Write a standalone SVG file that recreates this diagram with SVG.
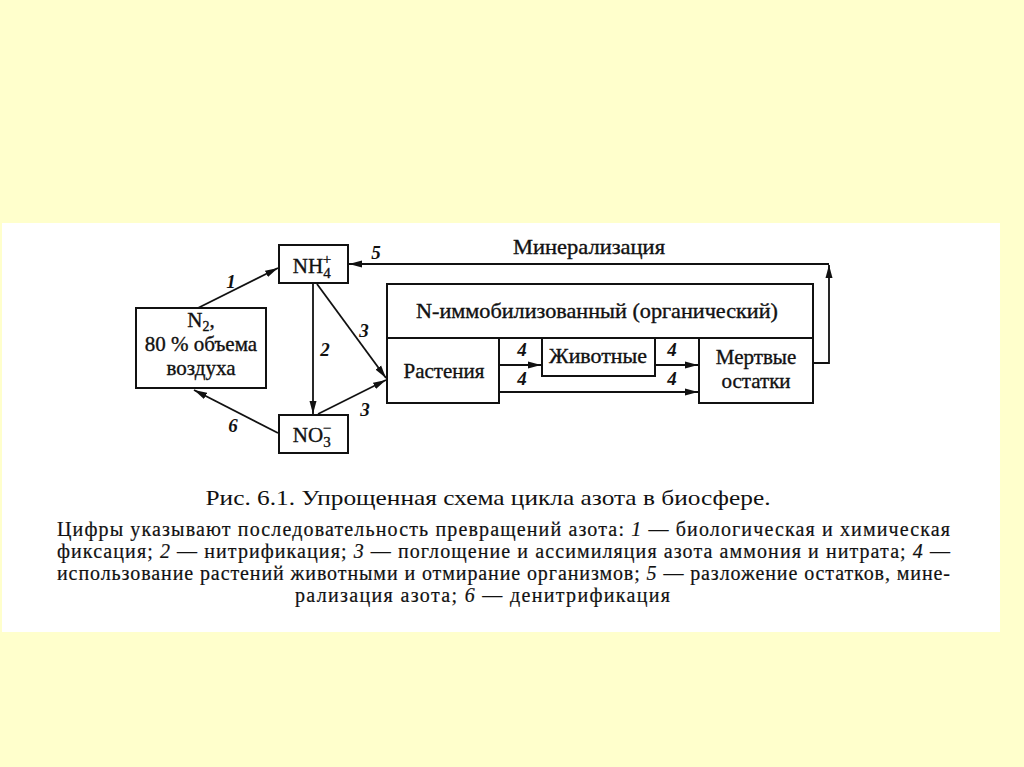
<svg xmlns="http://www.w3.org/2000/svg" width="1024" height="767" viewBox="0 0 1024 767">
<style>
.box{fill:#fff;stroke:#111;stroke-width:2}
.t{font-family:"Liberation Serif","Times New Roman",serif;fill:#111;text-anchor:middle}
.d{font-size:21px;stroke:#111;stroke-width:0.35}
.n{font-family:"Liberation Serif","Times New Roman",serif;font-style:italic;font-weight:bold;font-size:19px;fill:#111;text-anchor:middle}
.c{stroke:#111;stroke-width:1.8;fill:none;marker-end:url(#ah)}
.p{font-family:"Liberation Serif","Times New Roman",serif;font-size:20px;fill:#111;stroke:#111;stroke-width:0.2}
</style>
<defs>
<marker id="ah" markerUnits="userSpaceOnUse" markerWidth="14" markerHeight="8" refX="13" refY="4" orient="auto">
<path d="M0,0.5 L13,4 L0,7.5 z" fill="#111"/>
</marker>
</defs>
<rect x="0" y="0" width="1024" height="767" fill="#FFFFCC"/>
<rect x="2" y="223" width="998" height="409" fill="#fff"/>

<g id="n2">
<rect class="box" x="136" y="308" width="130" height="80"/>
<text class="t d" x="201" y="327" font-size="21">N<tspan font-size="14" dy="4">2</tspan><tspan dy="-4">,</tspan></text>
<text class="t d" x="201" y="351" font-size="19.5">80 % объема</text>
<text class="t d" x="201" y="375" font-size="19.5">воздуха</text>
</g>
<g id="nh4">
<rect class="box" x="279" y="245" width="69" height="38"/>
<text class="t d" x="312" y="273" font-size="22">NH<tspan font-size="15" dy="5">4</tspan><tspan font-size="15" dx="-8" dy="-14">+</tspan></text>
</g>
<g id="no3">
<rect class="box" x="279" y="415" width="69" height="38"/>
<text class="t d" x="312" y="442" font-size="22">NO<tspan font-size="15" dy="5">3</tspan><tspan font-size="15" dx="-8" dy="-14">−</tspan></text>
</g>
<g id="organic">
<rect class="box" x="387" y="284" width="426" height="54"/>
<text class="t d" x="597" y="318" textLength="362" lengthAdjust="spacingAndGlyphs">N-иммобилизованный (органический)</text>
</g>
<g id="plants">
<rect class="box" x="387" y="338" width="112" height="65"/>
<text class="t d" x="444" y="378">Растения</text>
</g>
<g id="animals">
<rect class="box" x="542" y="338" width="113" height="38"/>
<text class="t d" x="598" y="363" textLength="98" lengthAdjust="spacingAndGlyphs">Животные</text>
</g>
<g id="dead">
<rect class="box" x="699" y="338" width="114" height="65"/>
<text class="t d" x="756" y="364">Мертвые</text>
<text class="t d" x="756" y="388">остатки</text>
</g>

<g id="connectors">
<line class="c" x1="198" y1="308" x2="278" y2="268"/>
<polyline class="c" points="813,363 829,363 829,265"/>
<line class="c" x1="829" y1="264" x2="349" y2="264"/>
<line class="c" x1="313" y1="284" x2="313" y2="414"/>
<line class="c" x1="317" y1="284" x2="386" y2="378"/>
<line class="c" x1="318" y1="414" x2="386" y2="380"/>
<line class="c" x1="278" y1="433" x2="194" y2="390"/>
<line class="c" x1="499" y1="365" x2="541" y2="365"/>
<line class="c" x1="655" y1="365" x2="698" y2="365"/>
<line class="c" x1="499" y1="392" x2="698" y2="392"/>
<text class="t d" x="589" y="254" font-size="19" textLength="152" lengthAdjust="spacingAndGlyphs">Минерализация</text>
<text class="n" x="231" y="288">1</text>
<text class="n" x="376" y="259">5</text>
<text class="n" x="325" y="356">2</text>
<text class="n" x="364" y="337">3</text>
<text class="n" x="365" y="416">3</text>
<text class="n" x="233" y="432">6</text>
<text class="n" x="522" y="356">4</text>
<text class="n" x="522" y="385">4</text>
<text class="n" x="672" y="356">4</text>
<text class="n" x="672" y="385">4</text>
</g>

<text class="t" x="488" y="505" font-size="22" textLength="565" lengthAdjust="spacingAndGlyphs">Рис. 6.1. Упрощенная схема цикла азота в биосфере.</text>
<text class="p" x="57" y="536" textLength="893" lengthAdjust="spacing">Цифры указывают последовательность превращений азота: <tspan font-style="italic">1</tspan> — биологическая и химическая</text>
<text class="p" x="57" y="558" textLength="893" lengthAdjust="spacing">фиксация; <tspan font-style="italic">2</tspan> — нитрификация; <tspan font-style="italic">3</tspan> — поглощение и ассимиляция азота аммония и нитрата; <tspan font-style="italic">4</tspan> —</text>
<text class="p" x="57" y="580" textLength="893" lengthAdjust="spacing">использование растений животными и отмирание организмов; <tspan font-style="italic">5</tspan> — разложение остатков, мине-</text>
<text class="p" x="295" y="602" textLength="375" lengthAdjust="spacing">рализация азота; <tspan font-style="italic">6</tspan> — денитрификация</text>
</svg>
